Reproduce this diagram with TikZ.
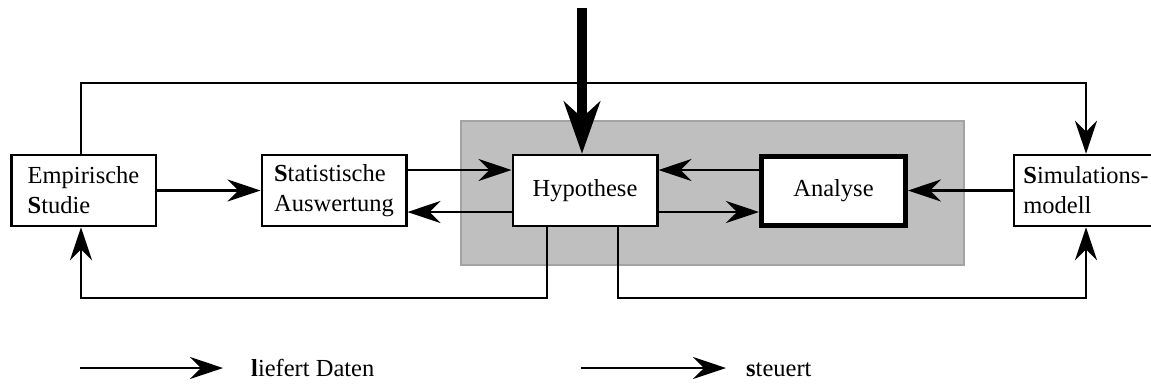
\documentclass[tikz,border=0pt]{standalone}
\usepackage{fontspec}
\setmainfont{Liberation Serif}
\usetikzlibrary{arrows.meta}
\definecolor{panel}{HTML}{BFBFBF}
\definecolor{panelrim}{HTML}{A3A3A3}
\begin{document}
\begin{tikzpicture}[x=1pt,y=-1pt,
  txt/.style={font=\fontsize{24.5}{30}\selectfont},
  box/.style={txt, draw, line width=2.5pt, fill=white, minimum width=144.5pt,
              minimum height=71pt, inner sep=0pt},
  conn/.style={line width=2.3pt, -{Stealth[length=33pt,width=22pt,inset=11pt]}},
  bigarrow/.style={line width=10pt, -{Stealth[length=52pt,width=36pt,inset=16pt]}},
]
\useasboundingbox (0,0) rectangle (1151,384);

% shaded core region
\draw[panelrim, fill=panel, line width=2.5pt] (461,121) rectangle (964,265);

% blocks
\node[box, align=left] (emp) at (83.5,190.5) {Empirische\\\textbf{S}tudie};
\node[box, align=left] (stat) at (334,190.5) {\textbf{S}tatistische\\Auswertung};
\node[box] (hyp) at (585,190.5) {Hypothese};
\node[box, line width=5pt, minimum width=144pt, minimum height=69pt] (ana) at (833.5,190.5) {Analyse};
\node[box, align=left] (sim) at (1086,190.5) {\textbf{S}imulations-\\modell};

% routing helpers
\coordinate (yHi) at (0,170);
\coordinate (yLo) at (0,212);
\coordinate (yTop) at (0,83);
\coordinate (yBot) at (0,298);
\coordinate (xE) at (81,0);
\coordinate (xH1) at (547,0);
\coordinate (xH2) at (618,0);
\coordinate (src) at (582,8);

% connectors
\draw[conn] (emp) -- (stat);
\draw[conn] (stat.east |- yHi) -- (hyp.west |- yHi);
\draw[conn] (hyp.west |- yLo) -- (stat.east |- yLo);
\draw[conn] (ana.west |- yHi) -- (hyp.east |- yHi);
\draw[conn] (hyp.east |- yLo) -- (ana.west |- yLo);
\draw[conn] (sim) -- (ana);
\draw[conn] (emp.north -| xE) |- (sim.north |- yTop) -- (sim.north);
\draw[conn] (hyp.south -| xH1) |- (xE |- yBot) -- (emp.south -| xE);
\draw[conn] (hyp.south -| xH2) |- (sim.south |- yBot) -- (sim.south);
\draw[bigarrow] (src) -- (hyp.north -| src);

% legend
\coordinate (k1a) at (80,368);
\coordinate (k1b) at (223,368);
\coordinate (k2a) at (581,368);
\coordinate (k2b) at (726,368);
\node[txt, anchor=base west, inner sep=0pt] (k1) at (251,376) {\textbf{l}iefert Daten};
\node[txt, anchor=base west, inner sep=0pt] (k2) at (746,376) {\textbf{s}teuert};
\draw[conn] (k1a) -- (k1b);
\draw[conn] (k2a) -- (k2b);
\end{tikzpicture}
\end{document}
